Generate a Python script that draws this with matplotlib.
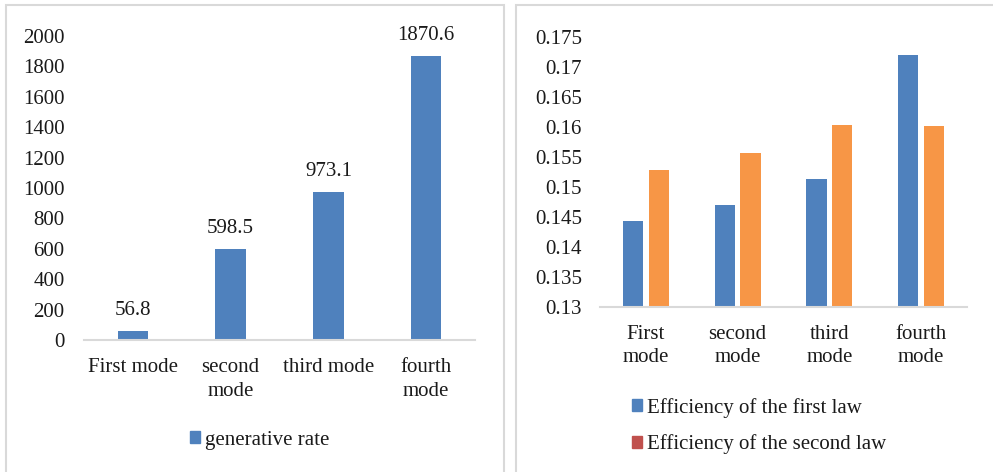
import matplotlib
matplotlib.use('Agg')
from matplotlib import pyplot as plt
import matplotlib.patches as mpatches
import numpy as np

# chart data
left_cats = ['First mode', 'second\nmode', 'third mode', 'fourth\nmode']
generative_rate = [56.8, 598.5, 973.1, 1870.6]

right_cats = ['First\nmode', 'second\nmode', 'third\nmode', 'fourth\nmode']
eff_first = [0.1443, 0.1470, 0.1513, 0.1720]
eff_second = [0.1529, 0.1557, 0.1604, 0.1602]

plt.rcParams['font.family'] = ['Liberation Serif', 'DejaVu Serif']
plt.rcParams['font.size'] = 15
txt = '#1a1a1a'
blue = '#4F81BD'
orange = '#F79646'
red = '#C0504D'
grey = '#D9D9D9'

W, H = 993, 472
fig = plt.figure(figsize=(W / 100, H / 100), dpi=100)


def px_axes(x0, x1, ytop, ybot):
    return fig.add_axes([x0 / W, 1 - ybot / H, (x1 - x0) / W, (ybot - ytop) / H])


def style(ax, ypad, xpad):
    for s in ['top', 'right', 'left']:
        ax.spines[s].set_visible(False)
    ax.spines['bottom'].set_color(grey)
    ax.spines['bottom'].set_linewidth(1.5)
    ax.tick_params(length=0, colors=txt)
    ax.tick_params(axis='y', pad=ypad)
    ax.tick_params(axis='x', pad=xpad)


# panel frames
fig.patches.append(mpatches.Rectangle((6 / W, -0.1), 498 / W, 1.1 - 5 / H,
                                      transform=fig.transFigure, fill=False,
                                      edgecolor=grey, linewidth=1.5))
fig.patches.append(mpatches.Rectangle((516 / W, -0.1), 0.6, 1.1 - 5 / H,
                                      transform=fig.transFigure, fill=False,
                                      edgecolor=grey, linewidth=1.5))

# left chart
ax1 = px_axes(84, 475, 36, 340)
x = np.arange(len(left_cats))
bars = ax1.bar(x, generative_rate, width=0.31, color=blue)
ax1.bar_label(bars, labels=[f'{v}' for v in generative_rate], padding=8, color=txt)
ax1.set_xlim(-0.5, 3.5)
ax1.set_ylim(0, 2000)
ax1.set_yticks(np.arange(0, 2001, 200))
ax1.set_xticks(x)
ax1.set_xticklabels(left_cats, va='top', linespacing=1.35)
style(ax1, 14, 13)
ax1.legend(handles=[mpatches.Patch(color=blue, label='generative rate')],
           loc='center left', bbox_to_anchor=(171 / W, 1 - 440 / H),
           bbox_transform=fig.transFigure, frameon=False,
           handlelength=0.5, handleheight=0.5, handletextpad=0.25,
           labelcolor=txt)

# right chart
ax2 = px_axes(600, 967, 37, 307)
x2 = np.arange(len(right_cats))
ax2.bar(x2 - 0.14, eff_first, width=0.22, color=blue)
ax2.bar(x2 + 0.14, eff_second, width=0.22, color=orange)
ax2.set_xlim(-0.5, 3.5)
ax2.set_ylim(0.13, 0.175)
yt = np.arange(0.13, 0.1751, 0.005)
ax2.set_yticks(yt)
ax2.set_yticklabels([f'{v:.3f}'.rstrip('0') for v in yt])
ax2.set_xticks(x2)
ax2.set_xticklabels(right_cats, va='top', linespacing=1.25)
style(ax2, 13, 13)
ax2.legend(handles=[mpatches.Patch(color=blue, label='Efficiency of the first law'),
                    mpatches.Patch(color=red, label='Efficiency of the second law')],
           loc='center left', bbox_to_anchor=(613 / W, 1 - 426 / H),
           bbox_transform=fig.transFigure, frameon=False,
           handlelength=0.5, handleheight=0.5, handletextpad=0.25,
           labelspacing=0.8, labelcolor=txt)

fig.savefig('out.png', dpi=100)
